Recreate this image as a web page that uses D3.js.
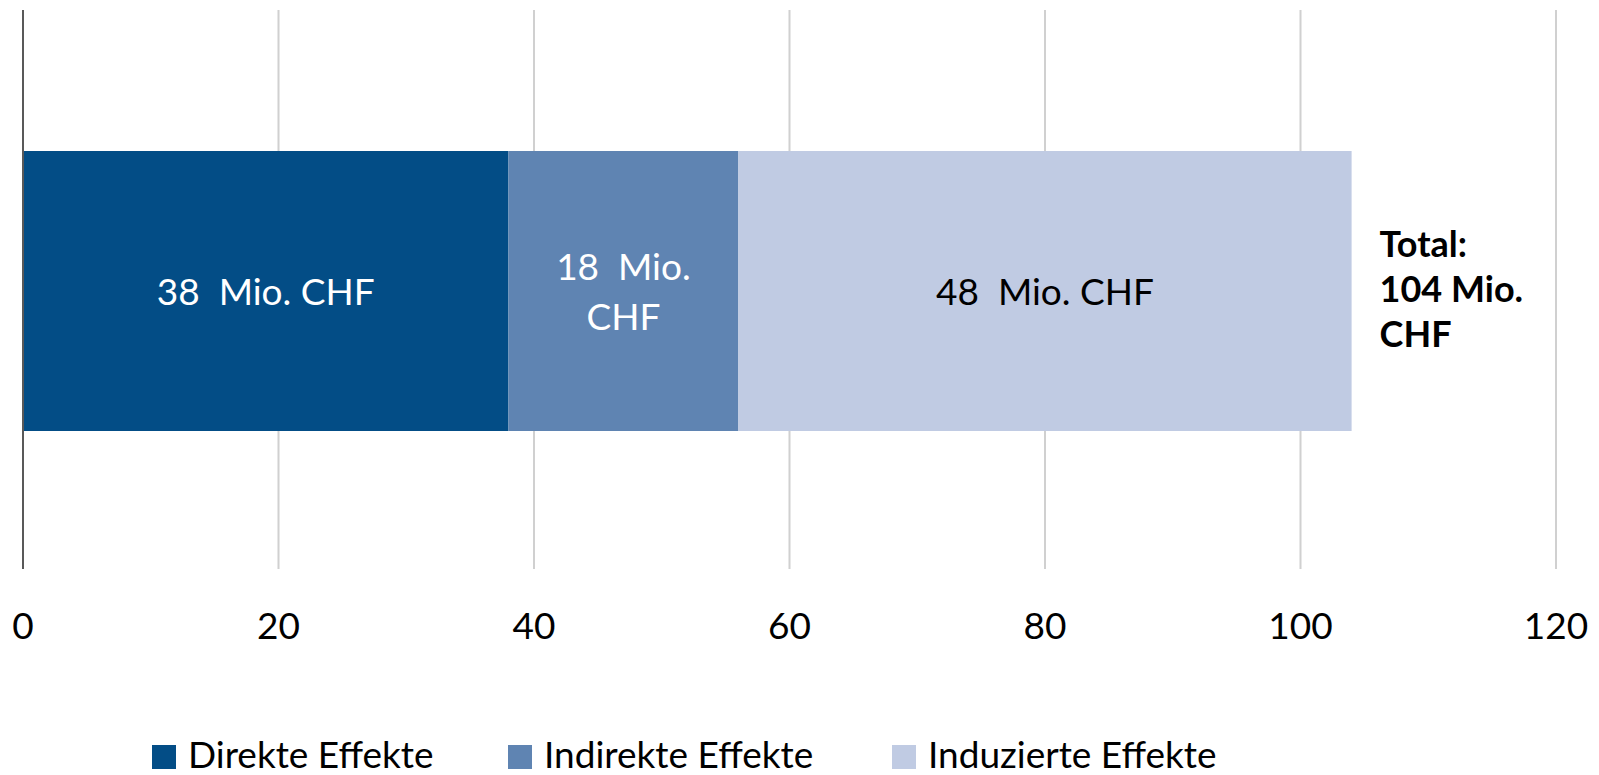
<!DOCTYPE html>
<html lang="de">
<head>
    <meta charset="UTF-8">
    <title>Effekte</title>
    <script src="https://d3js.org/d3.v7.min.js"></script>
    <style>
        body { margin: 0; background: #fff; }
        text { font-family: Lato, "Open Sans", sans-serif; }
    </style>
</head>
<body>
<script>
    const width  = 1599;
    const height = 775;

    const categories = ['Direkte Effekte', 'Indirekte Effekte', 'Induzierte Effekte'];
    const values     = [38, 18, 48];
    const labels     = [['38  Mio. CHF'], ['18  Mio.', 'CHF'], ['48  Mio. CHF']];
    const colors     = ['#034d86', '#5f84b2', '#c0cbe3'];
    const labelColors = ['#ffffff', '#ffffff', '#000000'];
    const totalLabel = ['Total:', '104 Mio.', 'CHF'];
    const ticks      = [0, 20, 40, 60, 80, 100, 120];

    const x = d3.scaleLinear().domain([0, 120]).range([23, 1556]);
    const barTop = 151, barBottom = 431;

    const svg = d3.select('body').append('svg')
        .attr('width', width)
        .attr('height', height);

    // gridlines
    svg.append('g').selectAll('line')
        .data(ticks.slice(1))
        .join('line')
        .attr('x1', d => x(d)).attr('x2', d => x(d))
        .attr('y1', 10).attr('y2', 569)
        .attr('stroke', '#d0d0d0')
        .attr('stroke-width', 2);

    // stacked segments
    let acc = 0;
    const segs = values.map((v, i) => {
        const s = {start: acc, end: acc + v, i: i};
        acc += v;
        return s;
    });

    svg.append('g').selectAll('rect')
        .data(segs)
        .join('rect')
        .attr('x', d => x(d.start))
        .attr('width', d => x(d.end) - x(d.start))
        .attr('y', barTop)
        .attr('height', barBottom - barTop)
        .attr('fill', d => colors[d.i]);

    // axis line
    svg.append('line')
        .attr('x1', x(0)).attr('x2', x(0))
        .attr('y1', 10).attr('y2', 569)
        .attr('stroke', '#595959')
        .attr('stroke-width', 2);

    // segment labels
    const midY = (barTop + barBottom) / 2;
    segs.forEach(s => {
        const lines = labels[s.i];
        const lh = 50;
        const t = svg.append('text')
            .attr('x', x((s.start + s.end) / 2))
            .attr('text-anchor', 'middle')
            .attr('fill', labelColors[s.i])
            .style('font-size', '37px')
            .style('white-space', 'pre');
        lines.forEach((l, k) => {
            t.append('tspan')
                .attr('x', x((s.start + s.end) / 2))
                .attr('y', midY + 14 + (k - (lines.length - 1) / 2) * lh)
                .text(l);
        });
    });

    // total label
    const tt = svg.append('text')
        .attr('fill', '#000')
        .style('font-size', '36px')
        .style('font-weight', 'bold');
    totalLabel.forEach((l, k) => {
        tt.append('tspan')
            .attr('x', x(acc) + 28)
            .attr('y', 257 + k * 45)
            .text(l);
    });

    // tick labels
    svg.append('g').selectAll('text')
        .data(ticks)
        .join('text')
        .attr('x', d => x(d))
        .attr('y', 639)
        .attr('text-anchor', 'middle')
        .style('font-size', '37px')
        .attr('fill', '#000')
        .text(d => d);

    // legend
    const legX = [152, 508, 892];
    const leg = svg.append('g').selectAll('g')
        .data(categories)
        .join('g')
        .attr('transform', (d, i) => `translate(${legX[i]},745)`);
    leg.append('rect')
        .attr('width', 24).attr('height', 24)
        .attr('fill', (d, i) => colors[i]);
    leg.append('text')
        .attr('x', 36).attr('y', 23)
        .style('font-size', '37px')
        .attr('fill', '#000')
        .text(d => d);
</script>
</body>
</html>
